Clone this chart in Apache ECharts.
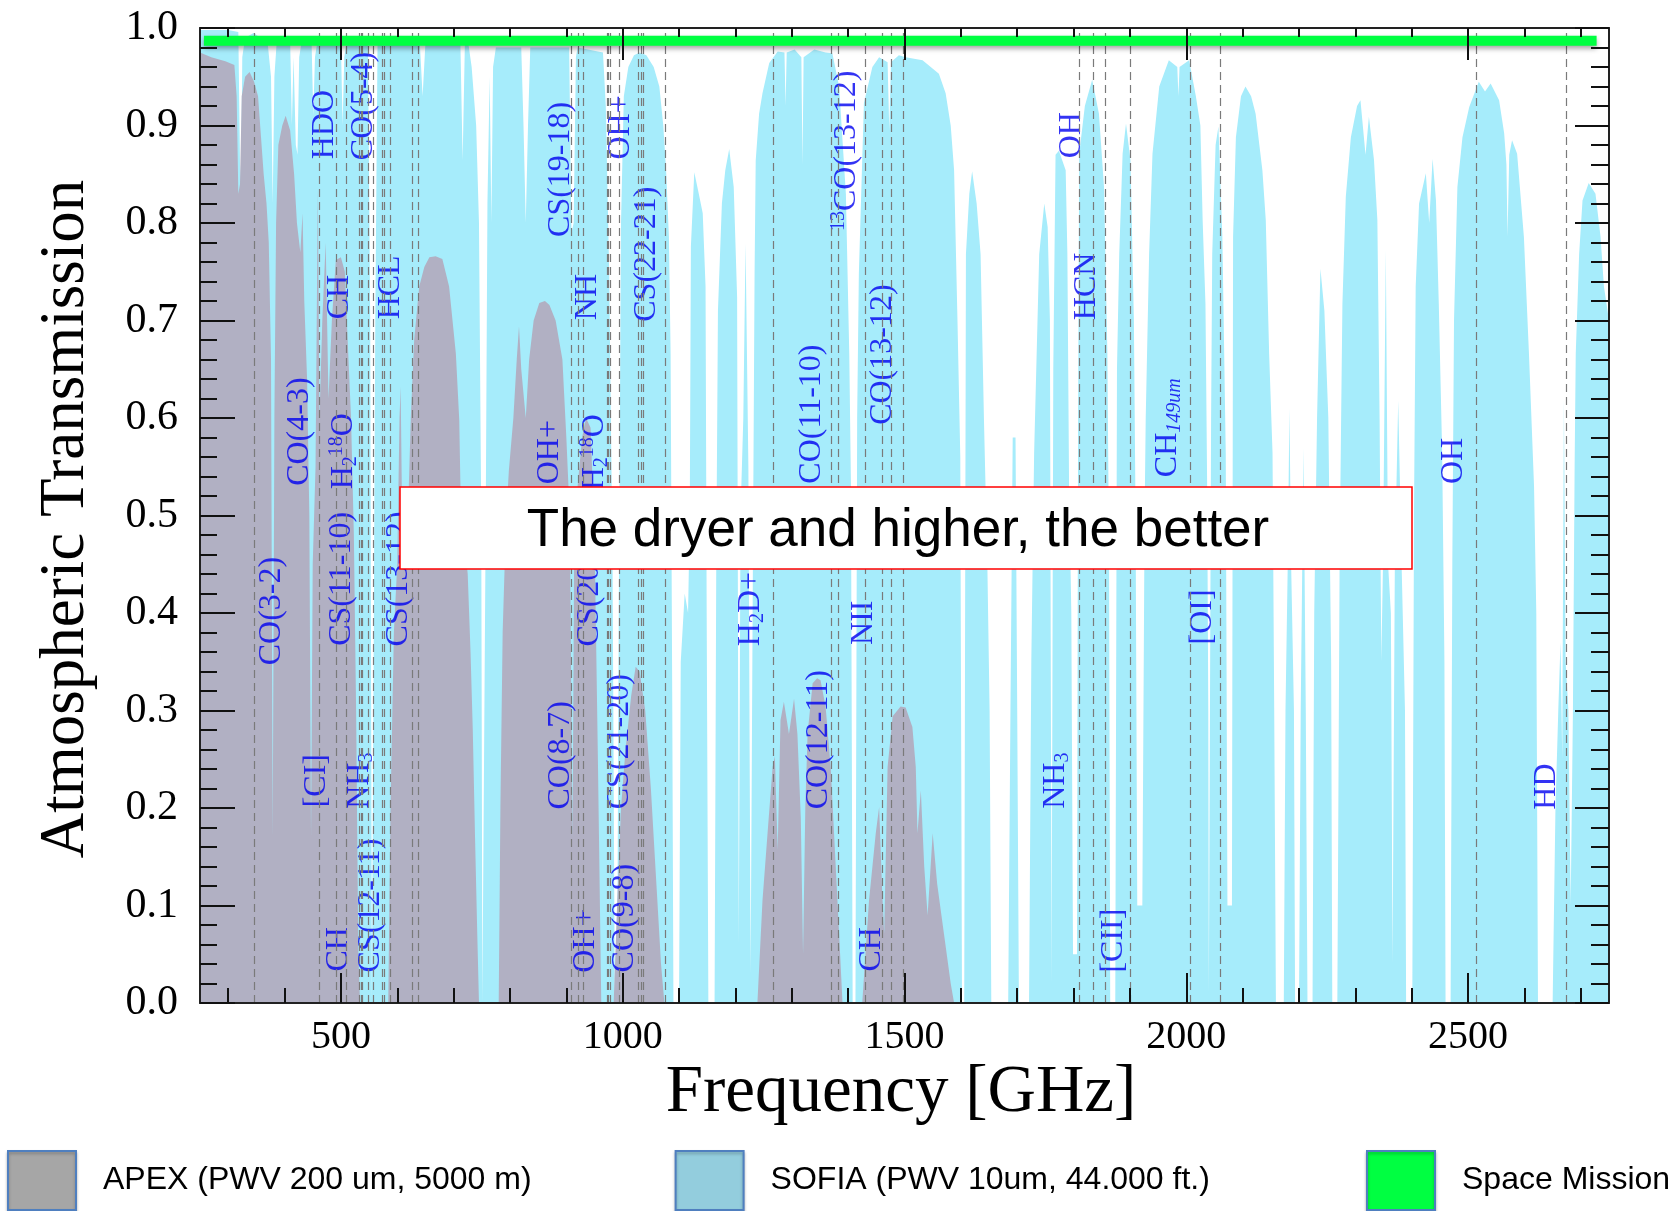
<!DOCTYPE html>
<html>
<head>
<meta charset="utf-8">
<script src="https://cdn.jsdelivr.net/npm/echarts@6/dist/echarts.min.js"></script>
<style>
  html, body { margin: 0; padding: 0; background: #fff; }
  #chart { width: 1677px; height: 1211px; }
</style>
</head>
<body>
<div id="chart"></div>
<script>
// axis ticks (GHz / transmission)
const majorGHz = [500, 1000, 1500, 2000, 2500]
const minorGHz = [300, 400, 500, 600, 700, 800, 900, 1000, 1100, 1200, 1300, 1400, 1500, 1600, 1700, 1800, 1900, 2000, 2100, 2200, 2300, 2400, 2500, 2600, 2700]

// SOFIA transmission, PWV 10um at 44.000 ft  [GHz, T]
const sofia = [
  [250, 0.998], [300, 0.998], [318, 0.996], [321, 0.86], [323, 0.84], [325, 0.97], [330, 0.99], [345, 0.995], [370, 0.985],
  [376, 0.95], [379, 0.82], [382, 0.95], [386, 0.985], [410, 0.985], [413, 0.9], [416, 0.97], [420, 0.88],
  [423, 0.87], [426, 0.97], [430, 0.985], [448, 0.985], [451, 0.91], [454, 0.97], [458, 0.985], [500, 0.985],
  [503, 0.9], [506, 0.97], [510, 0.985], [548, 0.985], [552, 0.7], [555, 0.0], [558, 0.0], [561, 0.7],
  [565, 0.985], [640, 0.985], [645, 0.93], [650, 0.985], [712, 0.985], [716, 0.864], [720, 0.985], [726, 0.985],
  [732, 0.96], [740, 0.9], [745, 0.8], [749, 0.5], [751, 0.0], [754, 0.0], [757, 0.5], [760, 0.82],
  [764, 0.95], [767, 0.8], [770, 0.96], [775, 0.98], [820, 0.98], [824, 0.9], [828, 0.8], [832, 0.9],
  [836, 0.98], [905, 0.98], [909, 0.79], [913, 0.8], [917, 0.97], [920, 0.98], [965, 0.975], [970, 0.92],
  [976, 0.75], [982, 0.45], [986, 0.0], [990, 0.0], [993, 0.4], [997, 0.8], [1002, 0.93], [1010, 0.96],
  [1020, 0.972], [1030, 0.975], [1042, 0.972], [1055, 0.96], [1065, 0.94], [1072, 0.9], [1077, 0.854], [1082, 0.786],
  [1085, 0.666], [1088, 0.3], [1090, 0.0], [1100, 0.0], [1103, 0.35], [1110, 0.42], [1116, 0.4], [1119, 0.5],
  [1121, 0.776], [1127, 0.852], [1135, 0.83], [1142, 0.81], [1147, 0.735], [1149, 0.4], [1152, 0.0], [1163, 0.0],
  [1166, 0.45], [1169, 0.71], [1176, 0.82], [1182, 0.854], [1189, 0.876], [1197, 0.837], [1203, 0.724], [1206, 0.06],
  [1209, 0.5], [1214, 0.6], [1218, 0.779], [1223, 0.55], [1227, 0.03], [1231, 0.45], [1234, 0.75], [1236, 0.864],
  [1242, 0.912], [1248, 0.933], [1260, 0.964], [1275, 0.976], [1287, 0.975], [1289, 0.92], [1291, 0.975], [1305, 0.978],
  [1317, 0.97], [1319, 0.86], [1321, 0.97], [1340, 0.978], [1360, 0.975], [1372, 0.974], [1384, 0.94], [1396, 0.83],
  [1402, 0.666], [1405, 0.53], [1408, 0.0], [1413, 0.0], [1416, 0.6], [1419, 0.748], [1428, 0.923], [1443, 0.96],
  [1455, 0.97], [1470, 0.965], [1473, 0.895], [1476, 0.965], [1490, 0.972], [1502, 0.97], [1532, 0.967], [1561, 0.953],
  [1573, 0.933], [1582, 0.9], [1588, 0.854], [1594, 0.7], [1599, 0.56], [1602, 0.0], [1606, 0.0], [1609, 0.768],
  [1615, 0.83], [1620, 0.853], [1628, 0.82], [1635, 0.768], [1641, 0.598], [1647, 0.45], [1651, 0.3], [1654, 0.0],
  [1684, 0.0], [1688, 0.3], [1692, 0.58], [1697, 0.58], [1700, 0.3], [1703, 0.0], [1721, 0.0], [1725, 0.35],
  [1730, 0.564], [1739, 0.768], [1748, 0.82], [1754, 0.796], [1758, 0.7], [1761, 0.02], [1764, 0.65], [1768, 0.87],
  [1774, 0.874], [1786, 0.854], [1789, 0.768], [1792, 0.53], [1796, 0.4], [1799, 0.05], [1806, 0.05], [1808, 0.6],
  [1810, 0.871], [1820, 0.92], [1833, 0.947], [1845, 0.912], [1854, 0.837], [1860, 0.666], [1863, 0.45], [1865, 0.0],
  [1874, 0.0], [1877, 0.65], [1881, 0.768], [1887, 0.871], [1893, 0.902], [1901, 0.864], [1907, 0.7], [1910, 0.5],
  [1913, 0.1], [1922, 0.1], [1926, 0.5], [1928, 0.6], [1934, 0.768], [1940, 0.871], [1952, 0.94], [1969, 0.967],
  [1984, 0.96], [1986, 0.93], [1988, 0.96], [2005, 0.967], [2017, 0.93], [2025, 0.9], [2029, 0.803], [2034, 0.717],
  [2037, 0.53], [2039, 0.3], [2040, 0.01], [2042, 0.3], [2044, 0.6], [2046, 0.768], [2052, 0.88], [2057, 0.899],
  [2064, 0.786], [2070, 0.564], [2073, 0.1], [2081, 0.1], [2083, 0.786], [2088, 0.888], [2097, 0.93], [2105, 0.94],
  [2115, 0.93], [2123, 0.912], [2135, 0.854], [2141, 0.803], [2147, 0.666], [2153, 0.564], [2156, 0.3], [2159, 0.0],
  [2173, 0.0], [2176, 0.3], [2180, 0.45], [2183, 0.61], [2186, 0.45], [2191, 0.3], [2193, 0.0], [2200, 0.0],
  [2203, 0.3], [2208, 0.569], [2212, 0.3], [2215, 0.0], [2224, 0.0], [2227, 0.4], [2232, 0.6], [2238, 0.753],
  [2245, 0.71], [2252, 0.6], [2257, 0.35], [2259, 0.0], [2268, 0.0], [2272, 0.45], [2275, 0.615], [2277, 0.717],
  [2283, 0.827], [2292, 0.888], [2303, 0.92], [2309, 0.926], [2318, 0.87], [2324, 0.909], [2333, 0.865], [2339, 0.803],
  [2343, 0.598], [2346, 0.35], [2349, 0.45], [2354, 0.772], [2358, 0.45], [2363, 0.4], [2366, 0.04], [2370, 0.45],
  [2376, 0.618], [2382, 0.45], [2388, 0.3], [2390, 0.0], [2401, 0.0], [2404, 0.5], [2407, 0.735], [2413, 0.82],
  [2425, 0.851], [2431, 0.8], [2437, 0.866], [2443, 0.823], [2448, 0.717], [2454, 0.564], [2458, 0.35], [2460, 0.0],
  [2469, 0.0], [2472, 0.45], [2475, 0.7], [2481, 0.837], [2490, 0.888], [2502, 0.919], [2519, 0.945], [2530, 0.935],
  [2540, 0.943], [2555, 0.926], [2564, 0.892], [2568, 0.86], [2570, 0.786], [2573, 0.87], [2578, 0.885], [2587, 0.871],
  [2599, 0.786], [2608, 0.666], [2617, 0.53], [2621, 0.4], [2624, 0.0], [2650, 0.0], [2655, 0.2], [2660, 0.3],
  [2664, 0.37], [2667, 0.25], [2670, 0.62], [2673, 0.35], [2678, 0.3], [2682, 0.1], [2686, 0.3], [2689, 0.55],
  [2691, 0.666], [2697, 0.768], [2703, 0.823], [2714, 0.841], [2726, 0.83], [2735, 0.786], [2741, 0.735], [2750, 0.7]
]

// APEX transmission, PWV 200 um at 5000 m  [GHz, T]
const apex = [
  [250, 0.975], [270, 0.97], [295, 0.966], [311, 0.962], [315, 0.93], [318, 0.83], [321, 0.84], [324, 0.93],
  [330, 0.95], [338, 0.955], [346, 0.945], [353, 0.93], [358, 0.89], [363, 0.85], [368, 0.82], [372, 0.78],
  [376, 0.66], [379, 0.17], [382, 0.6], [385, 0.8], [389, 0.88], [396, 0.9], [402, 0.91], [410, 0.895],
  [417, 0.85], [422, 0.8], [428, 0.77], [432, 0.81], [435, 0.72], [440, 0.64], [444, 0.5], [447, 0.17],
  [450, 0.45], [455, 0.55], [459, 0.835], [462, 0.6], [467, 0.7], [473, 0.78], [478, 0.62], [484, 0.7],
  [491, 0.762], [500, 0.765], [507, 0.75], [512, 0.68], [518, 0.6], [523, 0.48], [527, 0.3], [531, 0.05],
  [534, 0.0], [584, 0.0], [588, 0.2], [594, 0.38], [600, 0.45], [604, 0.6], [606, 0.632], [609, 0.48],
  [614, 0.45], [619, 0.5], [624, 0.6], [630, 0.68], [639, 0.735], [648, 0.755], [657, 0.765], [668, 0.766],
  [680, 0.763], [692, 0.735], [704, 0.666], [710, 0.598], [713, 0.5], [720, 0.47], [725, 0.44], [730, 0.36],
  [734, 0.28], [738, 0.17], [742, 0.07], [745, 0.0], [780, 0.0], [783, 0.2], [787, 0.38], [793, 0.495],
  [798, 0.546], [806, 0.6], [812, 0.66], [816, 0.694], [820, 0.65], [828, 0.6], [834, 0.66], [842, 0.7],
  [852, 0.718], [862, 0.72], [870, 0.716], [881, 0.7], [893, 0.66], [900, 0.58], [906, 0.5], [911, 0.17],
  [914, 0.48], [920, 0.53], [928, 0.58], [935, 0.6], [943, 0.59], [950, 0.48], [956, 0.25], [962, 0.0],
  [984, 0.0], [990, 0.1], [997, 0.2], [1005, 0.26], [1015, 0.315], [1023, 0.345], [1030, 0.34], [1040, 0.3],
  [1050, 0.22], [1060, 0.12], [1068, 0.04], [1074, 0.0], [1239, 0.0], [1248, 0.105], [1257, 0.174], [1266, 0.242],
  [1270, 0.253], [1275, 0.157], [1280, 0.29], [1286, 0.309], [1295, 0.276], [1304, 0.312], [1310, 0.276], [1316, 0.19],
  [1320, 0.05], [1324, 0.2], [1328, 0.276], [1337, 0.328], [1345, 0.333], [1351, 0.331], [1360, 0.304], [1369, 0.242],
  [1375, 0.174], [1384, 0.071], [1390, 0.0], [1425, 0.0], [1437, 0.105], [1449, 0.174], [1455, 0.201], [1460, 0.12],
  [1464, 0.071], [1470, 0.242], [1479, 0.294], [1493, 0.304], [1502, 0.303], [1514, 0.283], [1520, 0.242], [1523, 0.174],
  [1529, 0.218], [1535, 0.14], [1541, 0.09], [1550, 0.174], [1558, 0.122], [1570, 0.071], [1582, 0.02], [1588, 0.0],
  [2750, 0.0]
]

// space mission: flat transmission across the band
const spaceGHz = [257, 2728]
const spaceTrans = 0.987

// dashed line frequencies (GHz)
const lineGHz = [345.8, 461.0, 492.2, 509.3, 532.7, 536.8, 538.7, 547.7, 556.9, 572.5, 576.3, 587.6, 625.9, 636.5,
  909.2, 921.8, 929.7, 971.8, 974.5, 978.6, 994.7, 1027.4, 1033.1, 1036.9, 1076.3,
  1267.0, 1370.1, 1382.0, 1431.2, 1461.1, 1477.0, 1496.9, 1810.0, 1834.7, 1856.0, 1900.5,
  2006.8, 2060.1, 2514.3, 2675.0]

// line labels: text, centre frequency, centre height
const labelText = ['CO(3-2)', 'CO(4-3)', 'H{sub|2}{sup|18}O', 'HDO', 'CO(5-4)', 'CH', 'CS(11-10)', '[CI]', 'NH{sub|3}', 'CH',
  'CS(12-11)', 'HCL', 'CS(13-12)', 'CS(19-18)', 'OH+', 'NH', 'CS(22-21)', 'OH+', 'H{sub|2}{sup|18}O', 'CS(20-19)',
  'CO(8-7)', 'CS(21-20)', 'OH+', 'CO(9-8)', 'H{sub|2}D+', 'CO(11-10)', '{sup|13}CO(13-12)', 'CO(13-12)', 'CO(12-11)', 'NII',
  'CH', 'OH', 'HCN', 'CH{it|149um}', '[OI]', 'NH{sub|3}', '[CII]', 'OH', 'HD']
const labelGHz = [377.6, 427, 504.7, 471.5, 541, 497.5, 500.9, 457.3, 533.2, 495.2,
  552.2, 588.4, 601.5, 890.5, 996, 938, 1041.8, 870.9, 950.6, 941.1,
  889.9, 994.2, 933.5, 1003.7, 1227.6, 1335.7, 1396.5, 1461, 1347.1, 1426.8,
  1442, 1796.8, 1823.4, 1967.6, 2028.3, 1768.3, 1870.8, 2474.1, 2639.2]
const labelT = [0.402, 0.586, 0.566, 0.901, 0.92, 0.724, 0.435, 0.228, 0.228, 0.055,
  0.10, 0.734, 0.435, 0.855, 0.898, 0.724, 0.768, 0.565, 0.565, 0.435,
  0.254, 0.268, 0.064, 0.087, 0.404, 0.604, 0.874, 0.665, 0.27, 0.39,
  0.055, 0.89, 0.735, 0.59, 0.396, 0.228, 0.064, 0.556, 0.222]

const serif = 'Liberation Serif'
const sans = 'Liberation Sans'
const blue = '#0000f0'

const chart = echarts.init(document.getElementById('chart'))

const tickLine = { color: '#111', width: 2 }
const xBase = { type: 'value', min: 250, max: 2750, splitLine: { show: false }, z: 10 }
const legendBase = {
  top: 1150,
  padding: 0,
  icon: 'rect',
  itemWidth: 68,
  itemHeight: 59,
  itemGap: 143,
  textStyle: { color: '#000', fontFamily: sans, fontSize: 32, padding: [20, 0, 0, 22] },
}
const legendBorder = { borderColor: '#4f7fbf', borderWidth: 2, shadowColor: 'rgba(0,0,0,0.25)', shadowBlur: 3, shadowOffsetY: 2 }

const option = {
  animation: false,
  backgroundColor: '#fff',
  grid: { left: 200, right: 68, top: 28, bottom: 208 },
  xAxis: [
    {
      ...xBase, position: 'bottom',
      axisLine: { show: true, lineStyle: { color: '#222', width: 2 } },
      axisTick: { show: true, inside: true, length: 30, lineStyle: tickLine, customValues: majorGHz },
      axisLabel: {
        show: true, customValues: majorGHz, color: '#000', fontFamily: serif, fontSize: 40, margin: 14,
        formatter: (v) => String(v),
      },
    },
    {
      ...xBase, position: 'bottom',
      axisLine: { show: false },
      axisTick: { show: true, inside: true, length: 15, lineStyle: tickLine, customValues: minorGHz },
      axisLabel: { show: false },
    },
    {
      ...xBase, position: 'top',
      axisLine: { show: true, lineStyle: { color: '#222', width: 2 } },
      axisTick: { show: true, inside: true, length: 32, lineStyle: tickLine, customValues: majorGHz },
      axisLabel: { show: false },
    },
    {
      ...xBase, position: 'top',
      axisLine: { show: false },
      axisTick: { show: true, inside: true, length: 9, lineStyle: tickLine, customValues: minorGHz },
      axisLabel: { show: false },
    },
  ],
  yAxis: [
    {
      type: 'value', min: 0, max: 1, interval: 0.1, position: 'left', z: 10,
      axisLine: { show: true, lineStyle: { color: '#222', width: 2 } },
      axisTick: { show: true, inside: true, length: 35, lineStyle: tickLine },
      minorTick: { show: true, splitNumber: 5, length: 17, lineStyle: tickLine },
      splitLine: { show: false },
      axisLabel: { color: '#000', fontFamily: serif, fontSize: 42, margin: 22, formatter: (v) => v.toFixed(1) },
    },
    {
      type: 'value', min: 0, max: 1, interval: 0.1, position: 'right', z: 10,
      axisLine: { show: true, lineStyle: { color: '#222', width: 2 } },
      axisTick: { show: true, inside: true, length: 34, lineStyle: tickLine },
      minorTick: { show: true, splitNumber: 5, length: 18, lineStyle: tickLine },
      splitLine: { show: false },
      axisLabel: { show: false },
    },
  ],
  legend: [
    {
      ...legendBase,
      left: 7,
      data: [
        { name: 'APEX (PWV 200 um, 5000 m)', itemStyle: { color: '#a6a6a6', ...legendBorder } },
        { name: 'SOFIA (PWV 10um, 44.000 ft.)', itemStyle: { color: '#93cddd', ...legendBorder } },
      ],
    },
    {
      ...legendBase,
      left: 1366,
      data: [
        { name: 'Space Mission', itemStyle: { color: '#00ff41', ...legendBorder } },
      ],
    },
  ],
  series: [
    {
      name: 'SOFIA (PWV 10um, 44.000 ft.)',
      type: 'line',
      data: sofia,
      showSymbol: false,
      symbol: 'none',
      z: 1,
      lineStyle: { width: 0 },
      itemStyle: { color: '#93cddd' },
      areaStyle: { color: '#a6ecfb', opacity: 1 },
      silent: true,
    },
    {
      name: 'APEX (PWV 200 um, 5000 m)',
      type: 'line',
      data: apex,
      showSymbol: false,
      symbol: 'none',
      z: 2,
      lineStyle: { width: 0 },
      itemStyle: { color: '#a6a6a6' },
      areaStyle: { color: '#b1b0c3', opacity: 1 },
      silent: true,
    },
    {
      name: 'lines',
      type: 'line',
      data: [],
      z: 3,
      markLine: {
        silent: true,
        symbol: 'none',
        label: { show: false },
        lineStyle: { color: '#7a7a7a', width: 1.2, type: [8, 5] },
        data: lineGHz.map((f) => ({ xAxis: f })),
      },
    },
    {
      name: 'labels',
      type: 'scatter',
      z: 4,
      symbolSize: 1,
      itemStyle: { color: 'rgba(0,0,0,0)' },
      silent: true,
      data: labelText.map((t, i) => ({ name: t, value: [labelGHz[i], labelT[i]] })),
      label: {
        show: true,
        position: 'inside',
        rotate: 90,
        formatter: (p) => p.name,
        color: blue,
        fontFamily: serif,
        fontSize: 32,
        lineHeight: 34,
        rich: {
          sub: { color: blue, fontFamily: serif, fontSize: 20, lineHeight: 20, verticalAlign: 'bottom' },
          sup: { color: blue, fontFamily: serif, fontSize: 20, lineHeight: 20, verticalAlign: 'top' },
          it: { color: blue, fontFamily: serif, fontSize: 20, lineHeight: 20, fontStyle: 'italic', verticalAlign: 'bottom' },
        },
      },
    },
    {
      name: 'Space Mission',
      type: 'line',
      data: spaceGHz.map((f) => [f, spaceTrans]),
      showSymbol: false,
      symbol: 'none',
      z: 5,
      itemStyle: { color: '#00ff41' },
      lineStyle: { color: '#00ff41', width: 10, shadowColor: 'rgba(0,0,0,0.35)', shadowBlur: 5, shadowOffsetY: 3 },
      silent: true,
    },
  ],
  graphic: [
    {
      type: 'text',
      z: 100,
      x: 66,
      y: 519,
      rotation: Math.PI / 2,
      style: { text: 'Atmospheric Transmission', fill: '#000', font: '63px "Liberation Serif"', align: 'center', verticalAlign: 'middle' },
    },
    {
      type: 'text',
      z: 100,
      x: 901,
      y: 1093,
      style: { text: 'Frequency [GHz]', fill: '#000', font: '67px "Liberation Serif"', align: 'center', verticalAlign: 'middle' },
    },
    {
      type: 'rect',
      z: 100,
      shape: { x: 400, y: 487, width: 1012, height: 82 },
      style: { fill: '#fff', stroke: '#ff0000', lineWidth: 1.5 },
    },
    {
      type: 'text',
      z: 101,
      x: 898,
      y: 531,
      style: { text: 'The dryer and higher, the better', fill: '#000', font: '53px "Liberation Sans"', align: 'center', verticalAlign: 'middle' },
    },
  ],
}

chart.setOption(option)
</script>
</body>
</html>
